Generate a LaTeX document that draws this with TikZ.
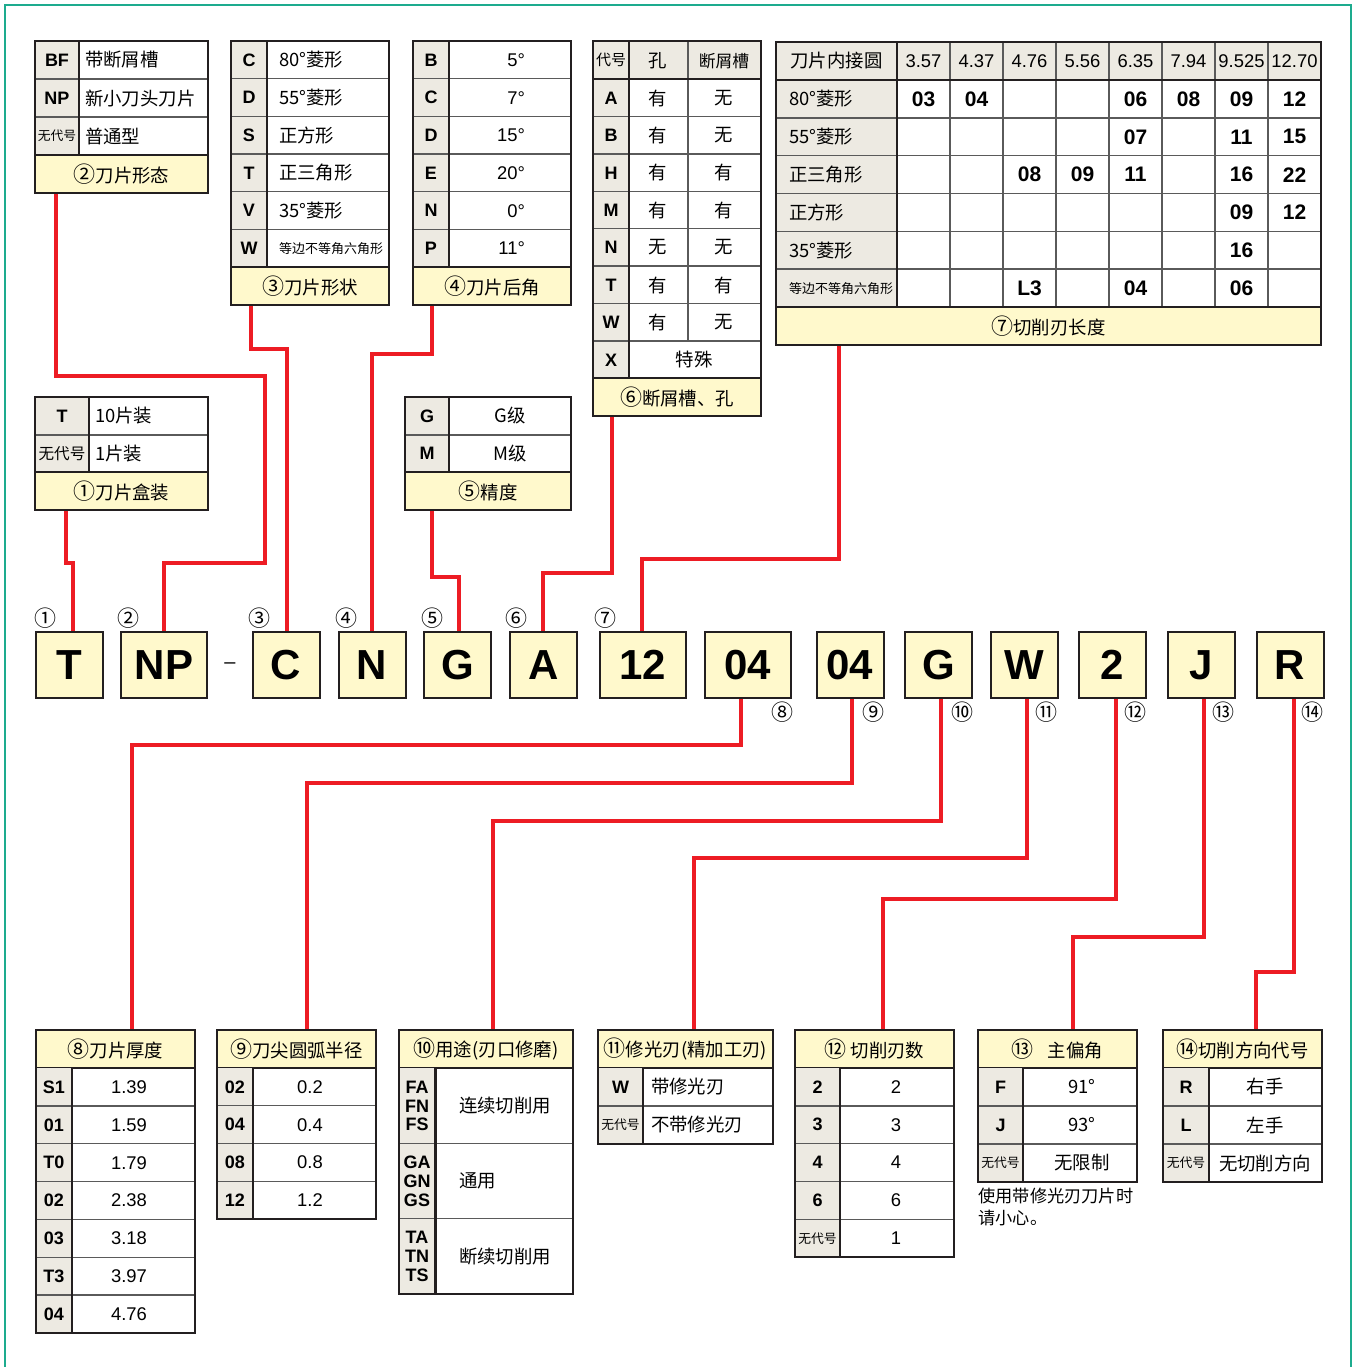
\documentclass[tikz,border=0pt]{standalone}
\usepackage{fontspec}
\setmainfont{Noto Sans CJK SC}
\newfontfamily\latin{Liberation Sans}
\usetikzlibrary{fit}

\definecolor{capfill}{HTML}{FFF9CC}
\definecolor{codefill}{HTML}{EDEAE2}
\definecolor{rulec}{HTML}{231F20}
\definecolor{gridc}{HTML}{5A5A5A}
\definecolor{wirec}{HTML}{ED1C24}
\definecolor{framec}{HTML}{1DAB8E}

\newcommand\nocode[1][6.4]{{\normalfont\fontsize{#1}{8}\selectfont 无代号}}
\newcommand\hexlab{{\fontsize{6.5}{7}\selectfont 等边不等角六角形}}
\newcommand\cn[1]{{\fontsize{11}{10}\selectfont\raisebox{0.4pt}{#1}}}

\begin{document}
\begin{tikzpicture}[
    x=0.5pt, y=-0.5pt,
    outerline/.style={draw=rulec, line width=1.25pt},
    gridline/.style={draw=gridc, line width=0.7pt},
    divider/.style={draw=rulec, line width=1.1pt},
    capbar/.style={draw=rulec, line width=1.25pt, fill=capfill, inner sep=0pt},
    zh/.style={font=\fontsize{9.2}{10}\selectfont},
    codetxt/.style={font=\latin\bfseries\fontsize{9}{10}\selectfont},
    stacktxt/.style={align=center, font=\latin\bfseries\fontsize{9}{9.4}\selectfont},
    numtxt/.style={font=\latin\fontsize{9.2}{10}\selectfont},
    bignum/.style={font=\latin\bfseries\fontsize{10.5}{11}\selectfont},
    segbox/.style={draw=rulec, line width=1pt, fill=capfill, minimum width=33.5pt,
                minimum height=33pt, inner sep=0pt,
                font=\latin\bfseries\fontsize{21}{21}\selectfont},
    widebox/.style={minimum width=43pt},
    itemno/.style={font=\fontsize{11}{11}\selectfont, inner sep=0pt},
    wire/.style={draw=wirec, line width=1.6pt},
  ]
  \useasboundingbox (0,0) rectangle (1357,1367);

  % frame
  \draw[draw=framec, line width=1pt] (5,1367) -- (5,5) -- (1351,5) -- (1351,1367);

  % (2) insert form
  \fill[codefill] (35,41) rectangle (79,155);
  \foreach \y in {79,117} \draw[gridline] (35,\y) -- (208,\y);
  \draw[divider] (79,41) -- (79,155);
  \foreach \c/\t [count=\i from 0] in {BF/带断屑槽, NP/新小刀头刀片, \nocode/普通型}{
    \node[codetxt] at (57,{60+38*\i}) {\c};
    \node[zh, anchor=west] at (78,{60+38*\i}) {\t};
  }
  \node[capbar, fit={(35,155) (208,193)}, label={[zh]center:\cn{②}刀片形态}] (form) {};
  \draw[outerline] (35,41) rectangle (208,193);

  % (3) insert shape
  \fill[codefill] (231,41) rectangle (267,267);
  \foreach \i in {1,...,5} \draw[gridline] (231,{41+37.67*\i}) -- (389,{41+37.67*\i});
  \draw[divider] (267,41) -- (267,267);
  \foreach \c/\t [count=\i from 0] in {C/80°菱形, D/55°菱形, S/正方形, T/正三角形, V/35°菱形, W/\hexlab}{
    \node[codetxt] at (249,{60+37.67*\i}) {\c};
    \node[zh, anchor=west] at (272,{60+37.67*\i}) {\t};
  }
  \node[capbar, fit={(231,267) (389,305)}, label={[zh]center:\cn{③}刀片形状}] (shape) {};
  \draw[outerline] (231,41) rectangle (389,305);

  % (4) relief angle
  \fill[codefill] (413,41) rectangle (449,267);
  \foreach \i in {1,...,5} \draw[gridline] (413,{41+37.67*\i}) -- (571,{41+37.67*\i});
  \draw[divider] (449,41) -- (449,267);
  \foreach \c/\t [count=\i from 0] in {B/5°, C/7°, D/15°, E/20°, N/0°, P/11°}{
    \node[codetxt] at (431,{60+37.67*\i}) {\c};
    \node[numtxt, anchor=east] at (532,{60+37.67*\i}) {\t};
  }
  \node[capbar, fit={(413,267) (571,305)}, label={[zh]center:\cn{④}刀片后角}] (relief) {};
  \draw[outerline] (413,41) rectangle (571,305);

  % (6) chip breaker and hole
  \fill[codefill] (593,41) rectangle (761,79);
  \fill[codefill] (593,79) rectangle (629,378);
  \foreach \i in {1,...,7} \draw[gridline] (593,{79+37.4*\i}) -- (761,{79+37.4*\i});
  \draw[gridline] (688,41) -- (688,341);
  \draw[divider] (629,41) -- (629,378);
  \draw[divider] (593,79) -- (761,79);
  \node[font=\fontsize{7.5}{8}\selectfont] at (611,60) {代号};
  \node[zh] at (658,61) {孔};
  \node[font=\fontsize{8.4}{9}\selectfont] at (724,61) {断屑槽};
  \foreach \c/\h/\g [count=\i from 0] in {A/有/无, B/有/无, H/有/有, M/有/有, N/无/无, T/有/有, W/有/无}{
    \node[codetxt] at (611,{98+37.4*\i}) {\c};
    \node[zh] at (658,{98+37.4*\i}) {\h};
    \node[zh] at (724,{98+37.4*\i}) {\g};
  }
  \node[codetxt] at (611,360) {X};
  \node[zh] at (694,360) {特殊};
  \node[capbar, fit={(593,378) (761,416)}, label={[zh]center:\cn{⑥}断屑槽、孔}] (breaker) {};
  \draw[outerline] (593,41) rectangle (761,416);

  % (7) cutting edge length
  \fill[codefill] (776,42) rectangle (1321,80);
  \fill[codefill] (776,80) rectangle (897,307);
  \foreach \i in {1,...,5} \draw[gridline] (776,{80+37.83*\i}) -- (1321,{80+37.83*\i});
  \foreach \k in {1,...,7} \draw[gridline] ({897+53*\k},42) -- ({897+53*\k},307);
  \draw[divider] (897,42) -- (897,307);
  \draw[divider] (776,80) -- (1321,80);
  \node[zh] at (836.5,61) {刀片内接圆};
  \foreach \d [count=\k from 0] in {3.57,4.37,4.76,5.56,6.35,7.94,9.525,12.70}
    \node[numtxt] at ({923.5+53*\k},61) {\d};
  \foreach \lab/\vals [count=\i from 0] in {80°菱形/{03,04,,,06,08,09,12},
      55°菱形/{,,,,07,,11,15}, 正三角形/{,,08,09,11,,16,22}, 正方形/{,,,,,,09,12},
      35°菱形/{,,,,,,16,}, \hexlab/{,,L3,,04,,06,}}{
    \node[zh, anchor=west] at (782,{99+37.83*\i}) {\lab};
    \foreach \v [count=\k from 0] in \vals
      \node[bignum] at ({923.5+53*\k},{99+37.83*\i}) {\v};
  }
  \node[capbar, fit={(776,307) (1321,345)}, label={[zh]center:\cn{⑦}切削刃长度}] (edge) {};
  \draw[outerline] (776,42) rectangle (1321,345);

  % (1) packing
  \fill[codefill] (35,397) rectangle (89,472);
  \draw[gridline] (35,435) -- (208,435);
  \draw[divider] (89,397) -- (89,472);
  \foreach \c/\t [count=\i from 0] in {T/10片装, \nocode[7.8]/1片装}{
    \node[codetxt] at (62,{416+37.5*\i}) {\c};
    \node[zh, anchor=west] at (88,{416+37.5*\i}) {\t};
  }
  \node[capbar, fit={(35,472) (208,510)}, label={[zh]center:\cn{①}刀片盒装}] (pack) {};
  \draw[outerline] (35,397) rectangle (208,510);

  % (5) tolerance
  \fill[codefill] (405,397) rectangle (449,472);
  \draw[gridline] (405,435) -- (571,435);
  \draw[divider] (449,397) -- (449,472);
  \foreach \c/\t [count=\i from 0] in {G/G级, M/M级}{
    \node[codetxt] at (427,{416+37.5*\i}) {\c};
    \node[zh] at (510,{416+37.5*\i}) {\t};
  }
  \node[capbar, fit={(405,472) (571,510)}, label={[zh]center:\cn{⑤}精度}] (tol) {};
  \draw[outerline] (405,397) rectangle (571,510);

  % designation boxes
  \node[segbox] (bT) at (69.5,665) {T};
  \node[segbox, widebox] (bNP) at (164,665) {NP};
  \node[font=\latin\fontsize{10}{10}\selectfont] (dash) at (230,666) {–};
  \node[segbox] (bC) at (286,665) {C};
  \node[segbox] (bN) at (372,665) {N};
  \node[segbox] (bG) at (457.5,665) {G};
  \node[segbox] (bA) at (543.5,665) {A};
  \node[segbox, widebox] (b12) at (642.5,665) {12};
  \node[segbox, widebox] (b04) at (748,665) {04};
  \node[segbox] (b04r) at (850,665) {04};
  \node[segbox] (bGu) at (938.5,665) {G};
  \node[segbox] (bW) at (1024.5,665) {W};
  \node[segbox] (b2) at (1112.5,665) {2};
  \node[segbox] (bJ) at (1201.5,665) {J};
  \node[segbox] (bR) at (1290,665) {R};

  % item numbers
  \foreach \t/\x in {①/45, ②/128, ③/259, ④/346, ⑤/432, ⑥/516, ⑦/605}
    \node[itemno] at (\x,618) {\t};
  \foreach \t/\x in {⑧/782, ⑨/873, ⑩/962, ⑪/1046, ⑫/1135, ⑬/1223, ⑭/1312}
    \node[itemno] at (\x,712) {\t};

  % (8) thickness
  \node[capbar, fit={(36,1030) (195,1068)}, label={[zh]center:\cn{⑧}刀片厚度}] (thick) {};
  \fill[codefill] (36,1068) rectangle (72,1333);
  \foreach \i in {1,...,6} \draw[gridline] (36,{1068+37.86*\i}) -- (195,{1068+37.86*\i});
  \draw[divider] (72,1068) -- (72,1333);
  \foreach \c/\t [count=\i from 0] in {S1/1.39, 01/1.59, T0/1.79, 02/2.38, 03/3.18, T3/3.97, 04/4.76}{
    \node[codetxt] at (54,{1087+37.86*\i}) {\c};
    \node[numtxt] at (129,{1087+37.86*\i}) {\t};
  }
  \draw[outerline] (36,1030) rectangle (195,1333);

  % (9) nose radius
  \node[capbar, fit={(217,1030) (376,1068)}, label={[zh]center:\cn{⑨}刀尖圆弧半径}] (radius) {};
  \fill[codefill] (217,1068) rectangle (253,1219);
  \foreach \i in {1,...,3} \draw[gridline] (217,{1068+37.75*\i}) -- (376,{1068+37.75*\i});
  \draw[divider] (253,1068) -- (253,1219);
  \foreach \c/\t [count=\i from 0] in {02/0.2, 04/0.4, 08/0.8, 12/1.2}{
    \node[codetxt] at (235,{1087+37.75*\i}) {\c};
    \node[numtxt] at (310,{1087+37.75*\i}) {\t};
  }
  \draw[outerline] (217,1030) rectangle (376,1219);

  % (10) application (honing)
  \node[capbar, fit={(399,1030) (573,1068)}, label={[zh]center:\cn{⑩}用途(刃口修磨)}] (usage) {};
  \fill[codefill] (399,1068) rectangle (435.5,1294);
  \foreach \i in {1,2} \draw[gridline] (399,{1068+75.33*\i}) -- (573,{1068+75.33*\i});
  \draw[divider] (435.5,1068) -- (435.5,1294);
  \foreach \c/\t [count=\i from 0] in {{FA\\FN\\FS}/连续切削用, {GA\\GN\\GS}/通用, {TA\\TN\\TS}/断续切削用}{
    \node[stacktxt] at (417,{1106+75.33*\i}) {\c};
    \node[zh, anchor=west] at (452,{1106+75.33*\i}) {\t};
  }
  \draw[outerline] (399,1030) rectangle (573,1294);

  % (11) wiper edge
  \node[capbar, fit={(598,1030) (773,1068)}, label={[zh]center:\cn{⑪}修光刃(精加工刃)}] (wiper) {};
  \fill[codefill] (598,1068) rectangle (643,1144);
  \draw[gridline] (598,1106) -- (773,1106);
  \draw[divider] (643,1068) -- (643,1144);
  \foreach \c/\t [count=\i from 0] in {W/带修光刃, \nocode/不带修光刃}{
    \node[codetxt] at (620.5,{1087+38*\i}) {\c};
    \node[zh, anchor=west] at (644,{1087+38*\i}) {\t};
  }
  \draw[outerline] (598,1030) rectangle (773,1144);

  % (12) number of edges
  \node[capbar, fit={(795,1030) (954,1068)}, label={[zh]center:\cn{⑫} 切削刃数}] (edges) {};
  \fill[codefill] (795,1068) rectangle (840,1257);
  \foreach \i in {1,...,4} \draw[gridline] (795,{1068+37.8*\i}) -- (954,{1068+37.8*\i});
  \draw[divider] (840,1068) -- (840,1257);
  \foreach \c/\t [count=\i from 0] in {2/2, 3/3, 4/4, 6/6, \nocode/1}{
    \node[codetxt] at (817.5,{1087+37.8*\i}) {\c};
    \node[numtxt] at (896,{1087+37.8*\i}) {\t};
  }
  \draw[outerline] (795,1030) rectangle (954,1257);

  % (13) lead angle
  \node[capbar, fit={(978,1030) (1137,1068)}, label={[zh]center:\cn{⑬}\hspace{7pt}主偏角}] (lead) {};
  \fill[codefill] (978,1068) rectangle (1023,1182);
  \foreach \i in {1,2} \draw[gridline] (978,{1068+38*\i}) -- (1137,{1068+38*\i});
  \draw[divider] (1023,1068) -- (1023,1182);
  \foreach \c/\t [count=\i from 0] in {F/91°, J/93°, \nocode/无限制}{
    \node[codetxt] at (1000.5,{1087+38*\i}) {\c};
    \node[zh] at (1082,{1087+38*\i}) {\t};
  }
  \draw[outerline] (978,1030) rectangle (1137,1182);
  \node[font=\fontsize{8.6}{11}\selectfont, align=left, anchor=north west, inner sep=0pt]
    (note) at (978,1188) {使用带修光刃刀片时\\请小心。};

  % (14) hand of tool
  \node[capbar, fit={(1163,1030) (1322,1068)}, label={[zh]center:\cn{⑭}切削方向代号}] (hand) {};
  \fill[codefill] (1163,1068) rectangle (1209,1182);
  \foreach \i in {1,2} \draw[gridline] (1163,{1068+38*\i}) -- (1322,{1068+38*\i});
  \draw[divider] (1209,1068) -- (1209,1182);
  \foreach \c/\t [count=\i from 0] in {R/右手, L/左手, \nocode/无切削方向}{
    \node[codetxt] at (1186,{1087+38*\i}) {\c};
    \node[zh] at (1265,{1087+38*\i}) {\t};
  }
  \draw[outerline] (1163,1030) rectangle (1322,1182);

  % connectors, upper tables
  \draw[wire] (pack.south -| 66,0) |- (73,563) -- (bT.north -| 73,0);
  \draw[wire] (form.south -| 56,0) |- (265,376) |- (164,563) -- (bNP.north);
  \draw[wire] (shape.south -| 251,0) |- (287,349) -- (bC.north -| 287,0);
  \draw[wire] (relief.south -| 432,0) |- (372,354) -- (bN.north);
  \draw[wire] (tol.south -| 432,0) |- (459,577) -- (bG.north -| 459,0);
  \draw[wire] (breaker.south -| 612,0) |- (543,573) -- (bA.north -| 543,0);
  \draw[wire] (edge.south -| 839,0) |- (642,559) -- (b12.north -| 642,0);

  % connectors, lower tables
  \draw[wire] (b04.south -| 741,0) |- (132,745) -- (thick.north -| 132,0);
  \draw[wire] (b04r.south -| 852,0) |- (307,783) -- (radius.north -| 307,0);
  \draw[wire] (bGu.south -| 941,0) |- (493,821) -- (usage.north -| 493,0);
  \draw[wire] (bW.south -| 1027,0) |- (694,858) -- (wiper.north -| 694,0);
  \draw[wire] (b2.south -| 1116,0) |- (883,899) -- (edges.north -| 883,0);
  \draw[wire] (bJ.south -| 1204,0) |- (1073,937) -- (lead.north -| 1073,0);
  \draw[wire] (bR.south -| 1294,0) |- (1256,972) -- (hand.north -| 1256,0);
\end{tikzpicture}
\end{document}
